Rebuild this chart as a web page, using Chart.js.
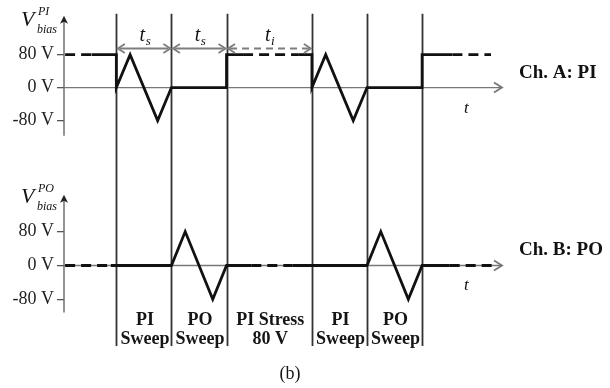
<!DOCTYPE html>
<html><head><meta charset="utf-8">
<script src="https://cdn.jsdelivr.net/npm/chart.js@4/dist/chart.umd.min.js"></script>
<style>html,body{margin:0;padding:0;background:#fff;}#wrap{position:relative;width:610px;height:388px;}</style>
</head><body><div id="wrap"><canvas id="c" width="610" height="388"></canvas></div>
<script>
// ---- data ----
const boundaries = [0, 1, 2, 3.55, 4.55, 5.55];
const phaseTop = ['PI', 'PO', 'PI Stress', 'PI', 'PO'];
const phaseBottom = ['Sweep', 'Sweep', '80 V', 'Sweep', 'Sweep'];

const chA_t = [-0.93, -0.45, 0, 0, 0.25, 0.75, 1, 2, 2, 2.3, 3.3, 3.55, 3.55, 3.8, 4.3, 4.55, 5.55, 5.55, 6.1, 6.8];
const chA_v = [80, 80, 80, 0, 80, -80, 0, 0, 80, 80, 80, 80, 0, 80, -80, 0, 0, 80, 80, 80];
const chA_dash = [1, 0, 0, 0, 0, 0, 0, 0, 0, 1, 0, 0, 0, 0, 0, 0, 0, 0, 1];

const chB_t = [-0.93, -0.1, 1, 1.25, 1.75, 2, 2.45, 3.2, 4.55, 4.8, 5.3, 5.55, 6.05, 6.85];
const chB_v = [0, 0, 0, 80, -80, 0, 0, 0, 0, 80, -80, 0, 0, 0];
const chB_dash = [1, 0, 0, 0, 0, 0, 1, 0, 0, 0, 0, 0, 1];

const yTickValues = [-80, 0, 80];
const yTickLabels = ['-80 V', '0 V', '80 V'];

const spanFrom = [0, 1, 2];
const spanTo = [1, 2, 3.55];
const spanSub = ['s', 's', 'i'];
const spanDashed = [false, false, true];
const spanLevel = 97;

const channelLabels = ['Ch. A: PI', 'Ch. B: PO'];
const axisSup = ['PI', 'PO'];
const axisTopVal = [174, 167];
const axisBottomVal = [-117, -111];
const caption = '(b)';

// ---- drawing ----
const SERIF = "'Liberation Serif', 'Times New Roman', serif";
function series(t, v) { return t.map((x, i) => ({x: x, y: v[i]})); }

const diagram = {
  id: 'diagram',
  beforeDatasetsDraw(chart) {
    const ctx = chart.ctx, ca = chart.chartArea, xs = chart.scales.x;
    const ys = [chart.scales.yA, chart.scales.yB];
    ctx.save();
    // phase dividers
    ctx.strokeStyle = '#333'; ctx.lineWidth = 1.8;
    boundaries.forEach(b => {
      const px = Math.round(xs.getPixelForValue(b)) + 0.5;
      ctx.beginPath(); ctx.moveTo(px, ca.top); ctx.lineTo(px, ca.bottom); ctx.stroke();
    });
    ys.forEach((s, i) => {
      // vertical value axis with arrow
      const x0 = ca.left;
      const yt = s.getPixelForValue(axisTopVal[i]);
      const yb = s.getPixelForValue(axisBottomVal[i]);
      ctx.strokeStyle = '#666'; ctx.lineWidth = 1.4;
      ctx.beginPath(); ctx.moveTo(x0, yb); ctx.lineTo(x0, yt + 4); ctx.stroke();
      ctx.fillStyle = '#222';
      ctx.beginPath(); ctx.moveTo(x0, yt); ctx.lineTo(x0 - 4, yt + 8); ctx.lineTo(x0, yt + 6); ctx.lineTo(x0 + 4, yt + 8); ctx.closePath(); ctx.fill();
      // time axis with arrow
      const y0 = s.getPixelForValue(0);
      const xr = ca.right;
      ctx.strokeStyle = '#777'; ctx.lineWidth = 1.4;
      ctx.beginPath(); ctx.moveTo(ca.left, y0); ctx.lineTo(xr, y0); ctx.stroke();
      ctx.lineWidth = 1.8;
      ctx.beginPath(); ctx.moveTo(xr - 8, y0 - 5); ctx.lineTo(xr, y0); ctx.lineTo(xr - 8, y0 + 5); ctx.stroke();
    });
    ctx.restore();
  },
  afterDatasetsDraw(chart) {
    const ctx = chart.ctx, ca = chart.chartArea, xs = chart.scales.x;
    const ys = [chart.scales.yA, chart.scales.yB];
    ctx.save();
    // duration arrows
    const ay = Math.round(ys[0].getPixelForValue(spanLevel)) + 0.5;
    spanFrom.forEach((f, i) => {
      const x0 = xs.getPixelForValue(f) + 1.5, x1 = xs.getPixelForValue(spanTo[i]) - 1;
      ctx.strokeStyle = '#7d7d7d'; ctx.lineWidth = 1.8;
      ctx.setLineDash(spanDashed[i] ? [7, 5] : []);
      ctx.beginPath(); ctx.moveTo(x0 + 2, ay); ctx.lineTo(x1 - 2, ay); ctx.stroke();
      ctx.setLineDash([]);
      ctx.beginPath(); ctx.moveTo(x0 + 7, ay - 4.5); ctx.lineTo(x0, ay); ctx.lineTo(x0 + 7, ay + 4.5); ctx.stroke();
      ctx.beginPath(); ctx.moveTo(x1 - 7, ay - 4.5); ctx.lineTo(x1, ay); ctx.lineTo(x1 - 7, ay + 4.5); ctx.stroke();
      const cx = (x0 + x1) / 2;
      ctx.fillStyle = '#111';
      ctx.font = 'italic 20px ' + SERIF; ctx.textAlign = 'right'; ctx.textBaseline = 'alphabetic';
      ctx.fillText('t', cx + 1, ay - 8);
      ctx.font = 'italic 13px ' + SERIF; ctx.textAlign = 'left';
      ctx.fillText(spanSub[i], cx + 1.5, ay - 4);
    });
    ys.forEach((s, i) => {
      const y80 = s.getPixelForValue(80), y0 = s.getPixelForValue(0);
      ctx.fillStyle = '#111'; ctx.textBaseline = 'alphabetic'; ctx.textAlign = 'left';
      const vb = y80 - 29;
      ctx.font = 'italic 22px ' + SERIF; ctx.fillText('V', 21, vb);
      ctx.font = 'italic 12px ' + SERIF; ctx.fillText(axisSup[i], 38, vb - 11);
      ctx.font = 'italic 12px ' + SERIF; ctx.fillText('bias', 37, vb + 7);
      ctx.font = 'italic 17px ' + SERIF; ctx.fillText('t', 464, y0 + 25);
      ctx.font = 'bold 19px ' + SERIF; ctx.fillText(channelLabels[i], 519, y0 - 10);
    });
    // phase labels
    ctx.font = 'bold 18px ' + SERIF; ctx.textAlign = 'center'; ctx.fillStyle = '#151515';
    for (let i = 0; i < boundaries.length - 1; i++) {
      const cx = (xs.getPixelForValue(boundaries[i]) + xs.getPixelForValue(boundaries[i + 1])) / 2 + 1;
      ctx.fillText(phaseTop[i], cx, ca.bottom - 21);
      ctx.fillText(phaseBottom[i], cx, ca.bottom - 2);
    }
    ctx.font = '18px ' + SERIF;
    ctx.fillText(caption, 290, 379);
    ctx.restore();
  }
};

function yAxis(min, max) {
  return {
    type: 'linear', position: 'left', stack: 'v', stackWeight: 1,
    min: min, max: max, bounds: 'data',
    afterBuildTicks: s => { s.ticks = yTickValues.map(v => ({value: v})); },
    afterFit: s => { s.width = 64; },
    ticks: {
      callback: v => yTickLabels[yTickValues.indexOf(v)],
      font: {family: SERIF, size: 18}, color: '#1e1e1e', padding: 3
    },
    grid: {drawOnChartArea: false, drawTicks: true, tickLength: 7, color: '#555', lineWidth: 1.3},
    border: {display: false}
  };
}

new Chart(document.getElementById('c').getContext('2d'), {
  type: 'line',
  data: {
    datasets: [
      {label: 'Ch. A: PI', data: series(chA_t, chA_v), yAxisID: 'yA', borderColor: '#111', borderWidth: 2.8,
       pointRadius: 0, tension: 0, fill: false, borderJoinStyle: 'miter',
       segment: {borderDash: c => chA_dash[c.p0DataIndex] ? [10, 6] : undefined}},
      {label: 'Ch. B: PO', data: series(chB_t, chB_v), yAxisID: 'yB', borderColor: '#111', borderWidth: 2.8,
       pointRadius: 0, tension: 0, fill: false, borderJoinStyle: 'miter',
       segment: {borderDash: c => chB_dash[c.p0DataIndex] ? [10, 6] : undefined}}
    ]
  },
  options: {
    responsive: false, animation: false, devicePixelRatio: 1,
    layout: {padding: {left: 0, right: 108, top: 8, bottom: 42}},
    plugins: {legend: {display: false}, tooltip: {enabled: false}},
    scales: {
      x: {type: 'linear', min: -0.95, max: 7.0, display: false},
      yB: yAxis(-190, 202),
      yA: yAxis(-224, 179)
    }
  },
  plugins: [diagram]
});
</script></body></html>
